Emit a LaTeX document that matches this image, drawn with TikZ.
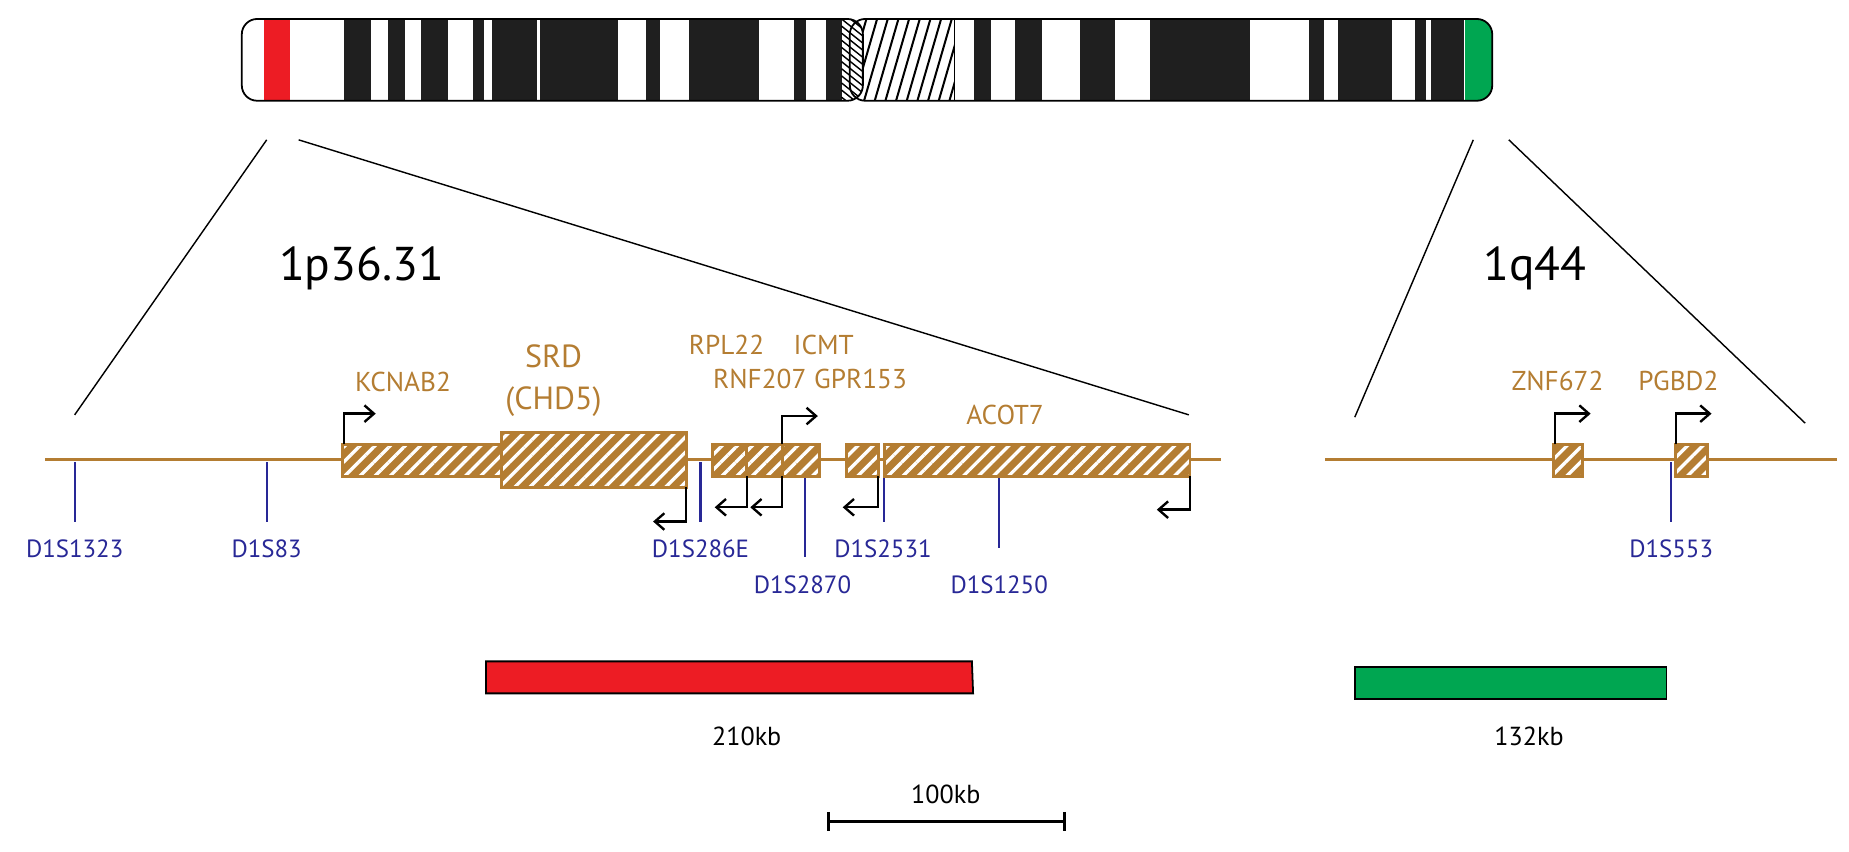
\documentclass[tikz,border=0pt]{standalone}
\usepackage{fontspec}
\setmainfont{PT Sans}
\usetikzlibrary{patterns.meta,arrows.meta}
\definecolor{gold}{RGB}{180,125,50}
\definecolor{mblue}{RGB}{40,40,150}
\definecolor{cred}{RGB}{237,28,36}
\definecolor{cgreen}{RGB}{0,166,81}
\begin{document}
\begin{tikzpicture}[x=1pt,y=-1pt,
  gene/.style={draw=gold,line width=2.5pt,preaction={fill=gold},pattern={Lines[angle=45,distance=9pt,line width=2.8pt]},pattern color=white},
  tss/.style={line width=2pt,-{Straight Barb[length=8pt,width=14pt]}},
  mk/.style={draw=mblue,line width=1.8pt},
  mlab/.style={text=mblue,font=\fontsize{21}{24}\selectfont,inner sep=0pt},
  glab/.style={text=gold,font=\fontsize{23}{26}\selectfont,inner sep=0pt},
  rlab/.style={font=\fontsize{40}{44}\selectfont,inner sep=0pt},
  klab/.style={font=\fontsize{22}{25}\selectfont,inner sep=0pt},
  band/.style={fill=black!88}]
\useasboundingbox (0,0) rectangle (1560,718);
% right arm
\begin{scope}
\clip[rounded corners=13pt] (717,16) rectangle (1259,85);
\fill[white] (717,16) rectangle (1259,85);
\foreach \i in {0,...,11} \draw[line width=1.7pt] (702+9*\i,85) -- (722+9*\i,16);
\fill[white] (805,16) rectangle (1259,85);
\draw[line width=1pt] (805,16) -- (805,85);
\foreach \a/\b in {822/836,856/879,911/941,970/1055,1104/1117,1129/1174,1194/1203,1207/1235}
  \fill[band] (\a,16) rectangle (\b,85);
\fill[cgreen] (1236,16) rectangle (1259,85);
\end{scope}
% left arm
\begin{scope}
\clip[rounded corners=13pt] (204,16) rectangle (728,85);
\fill[white] (204,16) rectangle (728,85);
\fill[cred] (223,16) rectangle (245,85);
\foreach \a/\b in {290/313,327/342,355/378,399/408,415/453,456/521,545/557,581/640,670/680,697/710}
  \fill[band] (\a,16) rectangle (\b,85);
\foreach \i in {0,...,13} \draw[line width=1.2pt] (710,10+6*\i) -- (730,26+6*\i);
\end{scope}
\draw[line width=1.5pt,rounded corners=13pt] (717,16) rectangle (1259,85);
\draw[line width=1.5pt,rounded corners=13pt] (204,16) rectangle (728,85);
% zoom lines
\coordinate (zl1) at (225,118); \coordinate (zl2) at (63,350);
\coordinate (zr1) at (252,118); \coordinate (zr2) at (1003,350);
\coordinate (ql1) at (1243,118); \coordinate (ql2) at (1143,352);
\coordinate (qr1) at (1273,118); \coordinate (qr2) at (1523,357);
\draw[line width=1.2pt] (zl1) -- (zl2) (zr1) -- (zr2) (ql1) -- (ql2) (qr1) -- (qr2);
\node[rlab] (r1) at (305,226) {1p36.31};
\node[rlab] (r2) at (1295,226) {1q44};
% backbone
\coordinate (b1) at (38,388); \coordinate (b2) at (1030,388);
\coordinate (b3) at (1118,388); \coordinate (b4) at (1550,388);
\draw[gold,line width=2.5pt] (b1) -- (b2) (b3) -- (b4);
% markers
\foreach \x/\yb/\ye in {63/390/440,225/390/440,591/390/440,679/402/470,746/402/440,843/402/462,1410/390/440}
  \draw[mk] (\x,\yb) -- (\x,\ye);
\node[mlab] (m1) at (63,463) {D1S1323};
\node[mlab] (m2) at (225,463) {D1S83};
\node[mlab] (m3) at (591,463) {D1S286E};
\node[mlab] (m4) at (677,493) {D1S2870};
\node[mlab] (m5) at (745,463) {D1S2531};
\node[mlab] (m6) at (843,493) {D1S1250};
\node[mlab] (m7) at (1410,463) {D1S553};
% genes
\draw[gene] (289,375) rectangle (423,402);
\draw[gene] (423,365) rectangle (579,411);
\draw[gene] (601,375) rectangle (630,402);
\draw[gene] (630,375) rectangle (660,402);
\draw[gene] (660,375) rectangle (691,402);
\draw[gene] (714,375) rectangle (741,402);
\draw[gene] (746,375) rectangle (1004,402);
\draw[gene] (1311,375) rectangle (1335,402);
\draw[gene] (1414,375) rectangle (1441,402);
% transcription arrows
\draw[tss] (290,375) -- (290,349) -- (317,349);
\draw[tss] (579,411) -- (579,440) -- (551,440);
\draw[tss] (630,402) -- (630,428) -- (603,428);
\draw[tss] (660,402) -- (660,428) -- (633,428);
\draw[tss] (660,375) -- (660,351) -- (690,351);
\draw[tss] (741,402) -- (741,428) -- (711,428);
\draw[tss] (1004,402) -- (1004,430) -- (976,430);
\draw[tss] (1312,375) -- (1312,349) -- (1342,349);
\draw[tss] (1414,375) -- (1414,349) -- (1444,349);
% gene labels
\node[glab] (g1) at (340,322) {KCNAB2};
\node[glab,font=\fontsize{27}{30}\selectfont] (g2) at (467,301) {SRD};
\node[glab,font=\fontsize{27}{30}\selectfont] (g3) at (467,339) {(CHD5)};
\node[glab] (g4) at (613,291) {RPL22};
\node[glab] (g5) at (695,291) {ICMT};
\node[glab] (g6) at (641,320) {RNF207};
\node[glab] (g7) at (726,320) {GPR153};
\node[glab] (g8) at (848,350) {ACOT7};
\node[glab] (g9) at (1314,321) {ZNF672};
\node[glab] (g10) at (1416,321) {PGBD2};
% size bars
\draw[fill=cred,line width=1.5pt] (410,558) -- (820,558) -- (821,585) -- (410,585) -- cycle;
\draw[fill=cgreen,line width=1.5pt] (1143,563) rectangle (1406,590);
\node[klab] (k1) at (630,621) {210kb};
\node[klab] (k2) at (1290,621) {132kb};
\coordinate (s1) at (699,693); \coordinate (s2) at (898,693);
\draw[line width=2.5pt] (s1) -- (s2) (699,685) -- (699,701) (898,685) -- (898,701);
\node[klab] (k3) at (798,670) {100kb};
\end{tikzpicture}
\end{document}
